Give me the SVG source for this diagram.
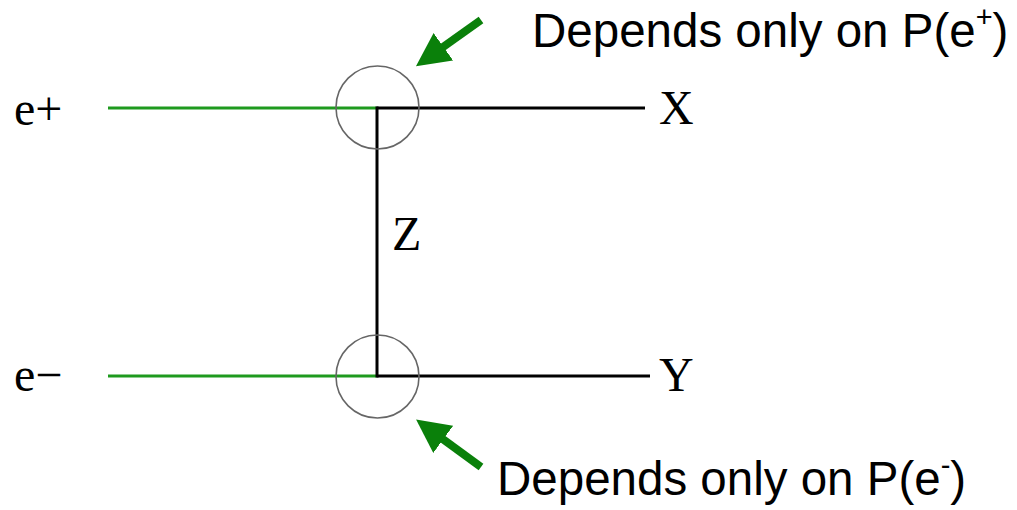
<svg xmlns="http://www.w3.org/2000/svg" width="1017" height="510" viewBox="0 0 1017 510">
<style>
.lbl{font-family:"Liberation Serif",serif;font-size:48px;fill:#000}
.note{font-family:"Liberation Sans",Arial,sans-serif;font-size:47.5px;fill:#000}
.gl{stroke:#1e9a1e;stroke-width:3;fill:none}
.bl{stroke:#000;stroke-width:3;fill:none}
.vx{stroke:#666;stroke-width:1.6;fill:none}
.arr{stroke:#0a800a;stroke-width:8;fill:none}
</style>
<defs>
<marker id="ah" markerWidth="4.2" markerHeight="4.2" refX="2.2" refY="2.1" orient="auto" markerUnits="strokeWidth">
<path d="M0,0 L4.2,2.1 L0,4.2 Z" fill="#0a800a"/>
</marker>
</defs>
<g id="connectors">
<line class="gl" x1="108" y1="108" x2="377" y2="108"/>
<line class="bl" x1="377" y1="108" x2="645" y2="108"/>
<line class="gl" x1="108" y1="376" x2="377" y2="376"/>
<line class="bl" x1="377" y1="376" x2="650" y2="376"/>
<line class="bl" x1="377" y1="106.5" x2="377" y2="377.5"/>
<line class="arr" x1="481" y1="20" x2="429" y2="57" marker-end="url(#ah)"/>
<line class="arr" x1="481" y1="467" x2="429" y2="429" marker-end="url(#ah)"/>
</g>
<g id="vertex-top"><circle class="vx" cx="377.5" cy="107.5" r="41.5"/></g>
<g id="vertex-bottom"><circle class="vx" cx="377.5" cy="376.5" r="41.5"/></g>
<g id="e-plus"><text class="lbl" x="14" y="125">e+</text></g>
<g id="e-minus"><text class="lbl" x="14" y="391">e−</text></g>
<g id="X"><text class="lbl" x="659" y="124">X</text></g>
<g id="Y"><text class="lbl" x="659" y="391">Y</text></g>
<g id="Z"><text class="lbl" x="392" y="250">Z</text></g>
<g id="note-top"><text class="note" x="532" y="47">Depends only on P(e<tspan font-size="29" dy="-20">+</tspan><tspan dy="20">)</tspan></text></g>
<g id="note-bottom"><text class="note" x="497" y="495">Depends only on P(e<tspan font-size="29" dy="-20">-</tspan><tspan dy="20">)</tspan></text></g>
</svg>
